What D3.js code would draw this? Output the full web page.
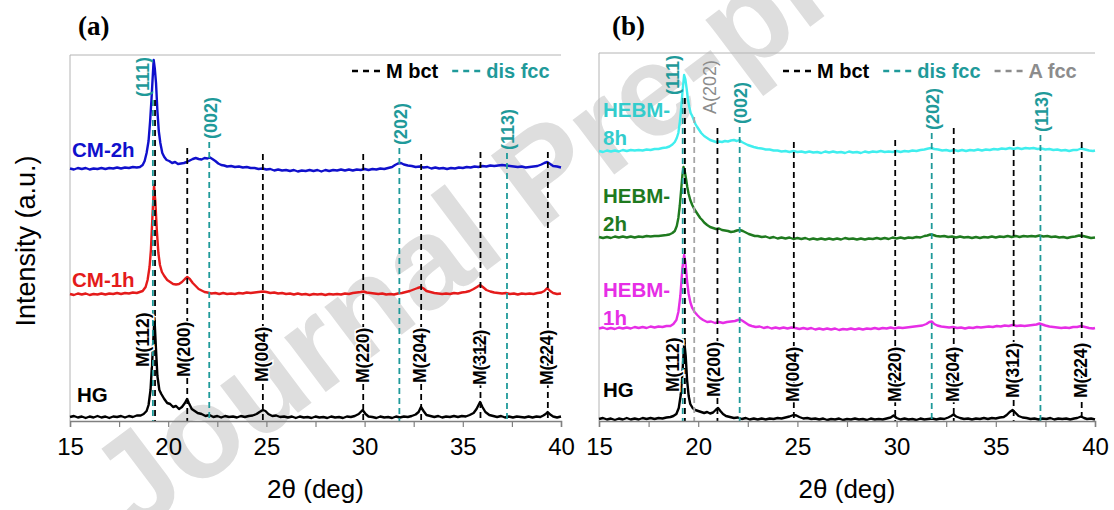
<!DOCTYPE html>
<html>
<head>
<meta charset="utf-8">
<script src="https://cdn.jsdelivr.net/npm/d3@7"></script>
<style>
  body { margin: 0; background: #fff; }
  svg { display: block; font-family: Arial, "Liberation Sans", sans-serif; }
</style>
</head>
<body>
<div id="chart"></div>
<script>
// ---- data: 2theta (deg) vs intensity above each pattern's own baseline (a.u.) ----
const hgA = [[15,1],[15.2,2],[15.4,0.5],[15.6,1.5],[15.8,0],[16,1.5],[16.2,0.5],[16.4,2],[16.6,0.5],[16.8,1.5],[17,0],[17.2,1.5],[17.4,1],[17.6,2],[17.8,0.5],[18,2],[18.2,1],[18.4,2.5],[18.6,2.5],[18.75,4],[18.9,7],[19.0,13],[19.1,28],[19.2,62],[19.3,100],[19.37,72],[19.45,42],[19.55,28],[19.65,24],[19.8,19],[19.95,15],[20.1,14],[20.25,11],[20.4,12],[20.55,9],[20.7,11],[20.85,15],[20.96,19],[21.05,15],[21.2,9],[21.35,7],[21.5,5],[21.7,4],[21.9,2],[22.1,3],[22.3,1],[22.5,2],[22.7,0.5],[22.9,2],[23.1,1],[23.3,1.5],[23.5,0.5],[23.7,2],[23.9,1],[24.1,2],[24.3,2.5],[24.5,4],[24.65,6],[24.82,8],[24.95,7],[25.1,4],[25.3,2],[25.5,2.5],[25.7,1],[25.9,1.5],[26.1,0.5],[26.3,1.5],[26.5,0],[26.7,1.5],[26.9,0.5],[27.1,1],[27.3,0],[27.5,1.5],[27.7,0.5],[27.9,1],[28.1,0],[28.3,1.5],[28.5,0.5],[28.7,1],[28.9,0],[29.1,1.5],[29.3,1],[29.5,2],[29.7,4],[29.9,8],[30.05,4],[30.2,1.5],[30.4,1],[30.6,0],[30.8,1.5],[31,0.5],[31.2,1],[31.4,0],[31.6,1.5],[31.8,0.5],[32,1.5],[32.2,1],[32.4,2],[32.6,3.5],[32.75,6],[32.87,11],[33.0,7],[33.15,3],[33.35,2],[33.55,1],[33.75,2],[33.95,0.5],[34.15,1.5],[34.35,1],[34.55,2],[34.75,1],[34.95,2],[35.15,1.5],[35.35,3],[35.55,5],[35.7,9],[35.88,16],[36.0,11],[36.15,6],[36.35,3],[36.55,2],[36.75,1],[36.95,2],[37.15,0.5],[37.35,1.5],[37.55,0.5],[37.75,1.5],[37.95,1],[38.15,0.5],[38.35,1.5],[38.55,0.5],[38.75,1.5],[38.95,1],[39.1,2.5],[39.22,4],[39.32,6],[39.45,3.5],[39.6,1.5],[39.8,0.5],[40,1.5]];

const cm1h = [[15,1],[15.2,0],[15.4,1.5],[15.6,0.5],[15.8,1.5],[16,0],[16.2,1],[16.4,0.5],[16.6,1.5],[16.8,0.5],[17,1.5],[17.2,1],[17.4,2],[17.6,1],[17.8,2],[18,1.5],[18.2,2.5],[18.4,2],[18.55,3],[18.7,4],[18.85,8],[18.95,15],[19.05,28],[19.12,45],[19.2,80],[19.28,110],[19.35,92],[19.42,65],[19.5,42],[19.58,30],[19.68,23],[19.8,19],[19.95,15],[20.1,13],[20.25,11],[20.4,10.5],[20.55,11],[20.7,13],[20.85,16],[20.97,18],[21.1,16],[21.25,12],[21.4,9],[21.55,6],[21.7,4.5],[21.85,3],[22,2.5],[22.2,1.5],[22.4,2],[22.6,1],[22.8,2],[23,1],[23.2,1.5],[23.4,1],[23.6,2],[23.8,1.5],[24,2.5],[24.2,2],[24.4,2.5],[24.6,3],[24.82,3.5],[25,3],[25.2,2],[25.4,2.5],[25.6,1.5],[25.8,2],[26,1],[26.2,1.5],[26.4,0.5],[26.6,1.5],[26.8,0.5],[27,1],[27.2,0],[27.4,1],[27.6,0.5],[27.8,1],[28,0],[28.2,1],[28.4,0.5],[28.6,1],[28.8,0.5],[29,1.5],[29.2,1],[29.4,2],[29.6,2.5],[29.8,3],[29.95,3.5],[30.1,2.5],[30.3,2],[30.5,1.5],[30.7,1],[30.9,1.5],[31.1,0.5],[31.3,1],[31.5,0.5],[31.7,1.5],[31.9,2],[32.1,3],[32.3,4],[32.5,5.5],[32.7,7],[32.87,8],[33.0,6.5],[33.15,4],[33.35,3],[33.55,2],[33.75,1.5],[33.95,1],[34.15,1.5],[34.35,1],[34.55,2],[34.75,1.5],[34.95,2.5],[35.15,3],[35.35,4],[35.55,6],[35.72,8],[35.88,10],[36.02,8],[36.2,5],[36.4,3.5],[36.6,2.5],[36.8,2],[37,1.5],[37.2,2],[37.4,1],[37.6,1.5],[37.8,0.5],[38,1.5],[38.2,1],[38.4,1.5],[38.6,1],[38.8,2],[39,2.5],[39.15,4],[39.3,7],[39.45,4],[39.6,2],[39.8,1],[40,1.5]];

const cm2h = [[15,0.5],[15.2,-0.5],[15.4,1],[15.6,0],[15.8,1],[16,-0.5],[16.2,0.5],[16.4,0],[16.6,1],[16.8,0],[17,1],[17.2,0.5],[17.4,1.5],[17.6,0.5],[17.8,1.5],[18,1],[18.2,2],[18.4,1.5],[18.56,2],[18.7,4],[18.8,8],[18.9,16],[19.0,28],[19.08,48],[19.15,70],[19.2,88],[19.26,109],[19.32,100],[19.38,86],[19.45,58],[19.52,38],[19.6,26],[19.7,16],[19.8,12],[19.92,9],[20.05,8],[20.2,6],[20.35,7],[20.5,5],[20.65,5.5],[20.8,6],[20.95,7],[21.1,8.5],[21.25,10],[21.4,11],[21.55,10],[21.7,9.5],[21.85,11],[22.0,10.5],[22.13,11.5],[22.25,10],[22.4,8],[22.55,5.5],[22.7,4],[22.85,3.5],[23,2.5],[23.2,3],[23.4,2],[23.6,2.5],[23.8,1.5],[24,2],[24.2,1],[24.4,1],[24.6,0],[24.8,0.5],[25,-0.5],[25.2,0],[25.4,-1.5],[25.6,-0.5],[25.8,-1.5],[26,-1],[26.2,-2],[26.4,-1],[26.6,-2.5],[26.8,-1.5],[27,-2],[27.2,-1],[27.4,-2],[27.6,-1],[27.8,-2.5],[28,-1],[28.2,-2],[28.4,-1],[28.6,-1.5],[28.8,-0.5],[29,-1.5],[29.2,-0.5],[29.4,-1.5],[29.6,-0.5],[29.8,-1],[30,0],[30.2,-1],[30.4,0],[30.6,-0.5],[30.8,0.5],[31,0],[31.2,1],[31.4,2],[31.55,4],[31.7,5.5],[31.85,6],[32,4.5],[32.2,3.5],[32.4,3],[32.6,2],[32.8,2.5],[33,1.5],[33.2,2],[33.4,0.5],[33.6,1.5],[33.8,0.5],[34,1],[34.2,0],[34.4,1],[34.6,0.5],[34.8,1.5],[35,1],[35.2,2],[35.4,1.5],[35.6,2.5],[35.8,2],[36,3],[36.2,2.5],[36.4,3.5],[36.6,3],[36.8,3.5],[37,4],[37.2,3.5],[37.4,3],[37.6,2.5],[37.8,2],[38,2.5],[38.2,1.5],[38.4,2],[38.6,2.5],[38.8,3],[39,4.5],[39.15,6],[39.3,7],[39.45,5],[39.6,3],[39.8,2.5],[40,1.5]];

const hgB = [[15,1],[15.2,2],[15.4,0.5],[15.6,1.5],[15.8,0],[16,1.5],[16.2,0.5],[16.4,2],[16.6,0.5],[16.8,1.5],[17,0.5],[17.2,2],[17.4,1],[17.6,2],[17.8,1],[18,2],[18.2,1.5],[18.4,2.5],[18.6,3],[18.75,4],[18.9,6],[19.02,12],[19.12,25],[19.22,52],[19.3,78],[19.37,64],[19.44,40],[19.52,24],[19.6,16],[19.72,12],[19.85,10],[20,9],[20.15,8],[20.3,7],[20.45,8],[20.6,6.5],[20.75,7.5],[20.88,10],[21,12],[21.12,9],[21.25,6],[21.4,4],[21.6,3],[21.8,2],[22,2.5],[22.2,1],[22.4,2],[22.6,0.5],[22.8,1.5],[23,0.5],[23.2,1.5],[23.4,0.5],[23.6,1.5],[23.8,1],[24,2],[24.2,1.5],[24.4,2.5],[24.6,3.5],[24.8,5],[24.95,4.5],[25.1,3],[25.3,1.5],[25.5,2],[25.7,1],[25.9,1.5],[26.1,0.5],[26.3,1.5],[26.5,0],[26.7,1],[26.9,0.5],[27.1,1.5],[27.3,0],[27.5,1],[27.7,0.5],[27.9,1.5],[28.1,0.5],[28.3,1],[28.5,0],[28.7,1.5],[28.9,0.5],[29.1,1],[29.3,0.5],[29.5,1.5],[29.7,2.5],[29.85,4.5],[30,2],[30.2,0.5],[30.4,1.5],[30.6,0.5],[30.8,1],[31,0],[31.2,1.5],[31.4,0.5],[31.6,1],[31.8,1.5],[32,0.5],[32.2,1.5],[32.4,1],[32.6,2.5],[32.75,4],[32.87,5.5],[33,3.5],[33.2,2],[33.4,1],[33.6,1.5],[33.8,0.5],[34,1.5],[34.2,1],[34.4,2],[34.6,1],[34.8,2],[35,1.5],[35.2,2.5],[35.4,3],[35.55,5],[35.7,8],[35.85,10],[36,7],[36.15,4],[36.35,2.5],[36.55,2],[36.75,1],[36.95,1.5],[37.15,0.5],[37.35,1.5],[37.55,1],[37.75,2],[37.95,0.5],[38.15,1.5],[38.35,1],[38.55,1.5],[38.75,0.5],[38.95,1.5],[39.1,2],[39.3,3.5],[39.45,2],[39.6,1],[39.8,1.5],[40,0.5]];

const hebm1h = [[15,0.5],[15.2,1.5],[15.4,0],[15.6,1],[15.8,0],[16,1.5],[16.2,0.5],[16.4,1.5],[16.6,0.5],[16.8,2],[17,1],[17.2,2],[17.4,1],[17.6,2.5],[17.8,1.5],[18,2.5],[18.2,2],[18.4,3],[18.6,3],[18.75,5],[18.9,9],[19.0,17],[19.1,33],[19.2,60],[19.29,74],[19.36,66],[19.44,48],[19.52,35],[19.6,27],[19.7,21],[19.82,17],[19.95,14],[20.1,11],[20.25,9],[20.45,7],[20.65,7.5],[20.85,6],[21.05,7],[21.25,6],[21.45,7],[21.65,7.5],[21.85,8],[22.0,9],[22.12,9.5],[22.25,8],[22.4,6],[22.55,4],[22.7,3],[22.9,2],[23.1,2.5],[23.3,1],[23.5,2],[23.7,0.5],[23.9,1.5],[24.1,0.5],[24.3,1.5],[24.5,0.5],[24.7,1.5],[24.9,1],[25.1,0],[25.3,1],[25.5,0],[25.7,1],[25.9,-0.5],[26.1,0.5],[26.3,-0.5],[26.5,0.5],[26.7,-0.5],[26.9,0.5],[27.1,-1],[27.3,0],[27.5,-0.5],[27.7,0.5],[27.9,-0.5],[28.1,0.5],[28.3,-0.5],[28.5,0.5],[28.7,0],[28.9,1],[29.1,0],[29.3,1],[29.5,0.5],[29.7,1.5],[29.9,0.5],[30.1,1.5],[30.3,1],[30.5,1.5],[30.7,2],[30.9,2.5],[31.1,3],[31.3,3.5],[31.5,5],[31.65,7],[31.78,7.5],[31.9,5],[32.05,3.5],[32.25,2.5],[32.45,2],[32.65,1.5],[32.85,2],[33.05,1],[33.25,1.5],[33.45,0.5],[33.65,1.5],[33.85,1],[34.05,2],[34.25,1.5],[34.45,2],[34.65,2.5],[34.85,2],[35.05,3],[35.25,2.5],[35.45,3.5],[35.65,3],[35.85,4],[36.05,3],[36.25,3.5],[36.45,3],[36.65,3.5],[36.85,4],[37.05,4.5],[37.2,5.5],[37.35,4.5],[37.5,3.5],[37.7,2.5],[37.9,2],[38.1,1.5],[38.3,1],[38.5,1.5],[38.7,1],[38.9,2],[39.1,2],[39.3,3],[39.5,2],[39.7,1],[39.9,0.5],[40,1]];

const hebm2h = [[15,1],[15.2,0],[15.4,1],[15.6,0],[15.8,1.5],[16,0.5],[16.2,1.5],[16.4,0.5],[16.6,1.5],[16.8,0.5],[17,1.5],[17.2,1],[17.4,2],[17.6,1.5],[17.8,2],[18,2],[18.2,2.5],[18.4,3],[18.55,3.5],[18.7,5],[18.82,7],[18.92,12],[19.0,20],[19.07,32],[19.14,48],[19.2,62],[19.26,71],[19.32,67],[19.38,60],[19.45,51],[19.52,44],[19.6,38],[19.7,33],[19.8,29],[19.9,26],[20.0,23],[20.1,20],[20.2,18],[20.3,15.5],[20.45,13],[20.6,11],[20.75,10],[20.9,9],[21.05,9.5],[21.2,8],[21.35,7.5],[21.5,7],[21.65,6],[21.8,6.5],[21.95,7.5],[22.1,8],[22.25,7],[22.4,5.5],[22.55,4],[22.7,3],[22.85,2],[23,2],[23.2,1],[23.4,1.5],[23.6,0],[23.8,1],[24,-0.5],[24.2,0.5],[24.4,-0.5],[24.6,0.5],[24.8,-1],[25,0],[25.2,-1],[25.4,0],[25.6,-1.5],[25.8,-0.5],[26,-1.5],[26.2,-0.5],[26.4,-1.5],[26.6,-0.5],[26.8,-1.5],[27,-0.5],[27.2,-1.5],[27.4,0],[27.6,-1],[27.8,-0.5],[28,-1.5],[28.2,-0.5],[28.4,-1.5],[28.6,-0.5],[28.8,-1],[29,0],[29.2,-1],[29.4,0],[29.6,-1],[29.8,0.5],[30,-0.5],[30.2,0.5],[30.4,-0.5],[30.6,0.5],[30.8,0],[31,1],[31.2,0.5],[31.4,2],[31.55,2.5],[31.7,3.5],[31.85,3],[32,2],[32.2,1.5],[32.4,2],[32.6,1],[32.8,1.5],[33,0.5],[33.2,1.5],[33.4,0.5],[33.6,1],[33.8,0],[34,1],[34.2,0],[34.4,1],[34.6,0.5],[34.8,1.5],[35,0.5],[35.2,1.5],[35.4,1],[35.6,2],[35.8,1],[36,2],[36.2,1],[36.4,2],[36.6,1.5],[36.8,2],[37,1.5],[37.2,2.5],[37.4,1.5],[37.6,2],[37.8,1],[38,1.5],[38.2,0.5],[38.4,1],[38.6,0],[38.8,1],[39,1.5],[39.2,2.5],[39.4,2],[39.6,1],[39.8,0],[40,0.5]];

const hebm8h = [[15,0],[15.2,-1],[15.4,0.5],[15.6,-0.5],[15.8,0.5],[16,-0.5],[16.2,1],[16.4,0],[16.6,1],[16.8,0.5],[17,1],[17.2,0.5],[17.4,1.5],[17.6,1],[17.8,2],[18,2],[18.2,3],[18.4,3.5],[18.55,4.5],[18.7,6.5],[18.82,9],[18.92,13],[19.0,18],[19.08,30],[19.15,45],[19.22,62],[19.29,76],[19.35,72],[19.42,62],[19.48,52],[19.55,44],[19.62,38],[19.7,35],[19.78,31],[19.86,27],[19.95,24],[20.05,21],[20.15,18],[20.3,15],[20.45,13],[20.6,11],[20.75,10],[20.9,9],[21.05,9.5],[21.2,9],[21.35,10],[21.5,9.5],[21.65,10.5],[21.8,11],[21.95,10],[22.07,11],[22.2,9],[22.35,7.5],[22.5,6],[22.65,5],[22.8,4],[23,3],[23.2,2.5],[23.4,1.5],[23.6,1.5],[23.8,0.5],[24,0.5],[24.2,-0.5],[24.4,0],[24.6,-1],[24.8,0],[25,-1],[25.2,-0.5],[25.4,-1.5],[25.6,-0.5],[25.8,-1.5],[26,-1],[26.2,-2],[26.4,-0.5],[26.6,-1.5],[26.8,-0.5],[27,-1.5],[27.2,-1],[27.4,-2],[27.6,-0.5],[27.8,-1.5],[28,-1],[28.2,-2],[28.4,-0.5],[28.6,-1.5],[28.8,-0.5],[29,-1],[29.2,0],[29.4,-1],[29.6,-0.5],[29.8,-1],[30,0],[30.2,-1],[30.4,0],[30.6,-0.5],[30.8,0.5],[31,0],[31.2,1],[31.4,1.5],[31.6,2.5],[31.75,3],[31.9,2],[32.1,1.5],[32.3,0.5],[32.5,1],[32.7,0],[32.9,1],[33.1,0],[33.3,1],[33.5,0],[33.7,1],[33.9,0.5],[34.1,1.5],[34.3,0.5],[34.5,1.5],[34.7,1],[34.9,2],[35.1,1.5],[35.3,2.5],[35.5,2],[35.7,3],[35.9,2],[36.1,3],[36.3,2],[36.5,3],[36.7,2.5],[36.9,3],[37.1,2],[37.3,2.5],[37.5,1.5],[37.7,2],[37.9,1],[38.1,1.5],[38.3,0.5],[38.5,1],[38.7,0],[38.9,1],[39.1,1],[39.3,2.5],[39.5,1.5],[39.7,0.5],[39.9,0],[40,0.5]];

// stacking offsets (a.u.) of each pattern
const offsetsA = [3, 126, 252];          // HG, CM-1h, CM-2h
const offsetsB = [1, 92, 183, 270];      // HG, HEBM-1h, HEBM-2h, HEBM-8h

// reflection positions (2theta, deg)
const mBctLabels = ["M(112)", "M(200)", "M(004)", "M(220)", "M(204)", "M(312)", "M(224)"];
const mBctPos = [19.33, 20.97, 24.82, 29.93, 32.88, 35.9, 39.33];
const disFccLabels = ["(111)", "(002)", "(202)", "(113)"];
const disFccPos = [19.22, 22.09, 31.77, 37.25];
const aFccLabels = ["A(202)"];
const aFccPos = [19.8];

// height (a.u.) where each dashed marker line starts
const mTopA = [321, 273, 267, 267, 267, 269, 269];
const mTopB = [323, 293, 279, 281, 293, 281, 279];
const fccTopA = [321, 279, 273, 268];
const fccTopB = [323, 294, 288, 286];
const aTopB = [304];
// height (a.u.) of the lower end of the M(hkl) labels
const mLabA = [54, 44, 39, 38, 38, 36, 36];
const mLabB = [29, 24, 19, 19, 19, 23, 23];

const xTicks = [15, 17.5, 20, 22.5, 25, 27.5, 30, 32.5, 35, 37.5, 40];

const TEAL = "#1f9a9a", GREY = "#8c8c8c";

const svg = d3.select("#chart").append("svg")
  .attr("width", 1114)
  .attr("height", 510);

// watermark
svg.append("text")
  .attr("transform", "translate(542,172) rotate(-37)")
  .attr("text-anchor", "middle")
  .attr("dy", "0.35em")
  .attr("font-size", 130)
  .attr("font-weight", "bold")
  .attr("fill", "#dedede")
  .text("Journal Pre-proof");

function drawPanel(p) {
  const x = d3.scaleLinear().domain([15, 40]).range([p.left, p.right]);
  const y = d3.scaleLinear().domain([0, p.ymax]).range([p.bottom, p.top]);
  const g = svg.append("g");

  // frame (top + left)
  g.append("path")
    .attr("d", `M${p.left},${p.bottom}V${p.top}H${p.right}`)
    .attr("fill", "none")
    .attr("stroke", "#b4b4b4")
    .attr("stroke-width", 1);

  const line = d3.line()
    .x(d => x(d[0]))
    .y(d => y(d[1]));

  p.series.forEach(s => {
    g.append("path")
      .datum(s.data.map(d => [d[0], d[1] + s.offset]))
      .attr("fill", "none")
      .attr("stroke", s.color)
      .attr("stroke-width", 2.4)
      .attr("stroke-linejoin", "round")
      .attr("d", line);
  });

  // dashed marker lines
  const marks = [];
  mBctPos.forEach((v, i) => marks.push({ x: v, top: p.mTop[i], color: "#000" }));
  disFccPos.forEach((v, i) => marks.push({ x: v, top: p.fccTop[i], color: TEAL }));
  if (p.aTop) aFccPos.forEach((v, i) => marks.push({ x: v, top: p.aTop[i], color: "#a6a6a6" }));

  g.selectAll(".mark").data(marks).join("line")
    .attr("x1", d => x(d.x)).attr("x2", d => x(d.x))
    .attr("y1", d => y(d.top)).attr("y2", p.bottom)
    .attr("stroke", d => d.color)
    .attr("stroke-width", 1.8)
    .attr("stroke-dasharray", "6,4");

  // top labels (fcc)
  const fccLab = disFccLabels.map((t, i) => ({ t, x: disFccPos[i], y: p.fccTop[i] + 3, dx: i === 0 ? -10 : 1, color: TEAL, bold: true }));
  if (p.aTop) aFccLabels.forEach((t, i) => fccLab.push({ t, x: aFccPos[i], y: p.aTop[i] + 3, dx: 15, color: GREY, bold: false }));
  g.selectAll(".flab").data(fccLab).join("text")
    .attr("transform", d => `translate(${x(d.x) + d.dx},${y(d.y)}) rotate(-90)`)
    .attr("dy", "0.36em")
    .attr("font-size", 18)
    .attr("font-weight", d => d.bold ? "bold" : "normal")
    .attr("fill", d => d.color)
    .text(d => d.t);

  // bottom labels (M bct)
  g.selectAll(".mlab").data(mBctLabels.map((t, i) => ({ t, x: mBctPos[i], y: p.mLab[i], dx: i === 0 ? -12 : (i === 1 ? -4 : -1) })))
    .join("text")
    .attr("transform", d => `translate(${x(d.x) + d.dx},${y(d.y)}) rotate(-90)`)
    .attr("dy", "0.36em")
    .attr("font-size", 17.5)
    .attr("font-weight", "bold")
    .attr("fill", "#000")
    .attr("stroke", "#fff")
    .attr("stroke-width", 3)
    .attr("paint-order", "stroke")
    .text(d => d.t);

  // series names
  p.names.forEach(n => {
    const t = g.append("text")
      .attr("x", n.x).attr("y", n.y)
      .attr("font-size", 20.5)
      .attr("font-weight", "bold")
      .attr("fill", n.color);
    n.lines.forEach((l, k) => t.append("tspan").attr("x", n.x).attr("dy", k ? 28 : 0).text(l));
  });

  // x axis
  const ax = g.append("g")
    .attr("transform", `translate(0,${p.bottom})`)
    .call(d3.axisBottom(x).tickValues(xTicks).tickSize(6).tickPadding(11)
      .tickFormat(d => d % 5 === 0 ? d : ""));
  ax.select(".domain").attr("stroke", "#808080").attr("stroke-width", 1.5);
  ax.selectAll(".tick line").attr("stroke", "#808080").attr("stroke-width", 1.2);
  ax.selectAll(".tick text").attr("font-size", 24).attr("font-family", "Arial, 'Liberation Sans', sans-serif").attr("fill", "#000");

  g.append("text")
    .attr("x", (p.left + p.right) / 2).attr("y", 498)
    .attr("text-anchor", "middle")
    .attr("font-size", 26)
    .text("2θ (deg)");

  // legend
  let lx = p.legendX;
  p.legend.forEach(l => {
    g.append("line")
      .attr("x1", lx).attr("x2", lx + 28)
      .attr("y1", 71).attr("y2", 71)
      .attr("stroke", l.color)
      .attr("stroke-width", 2.5)
      .attr("stroke-dasharray", "6,5");
    const t = g.append("text")
      .attr("x", lx + 34).attr("y", 78)
      .attr("font-size", 20)
      .attr("font-weight", "bold")
      .attr("fill", l.color)
      .text(l.text);
    lx += 34 + t.node().getComputedTextLength() + 14;
  });

  // panel tag
  g.append("text")
    .attr("x", p.tagX).attr("y", 35)
    .attr("font-family", "'Liberation Serif', 'Times New Roman', serif")
    .attr("font-size", 27)
    .attr("font-weight", "bold")
    .text(p.tag);
}

drawPanel({
  tag: "(a)", tagX: 78,
  left: 70, right: 561, top: 55, bottom: 421, ymax: 366,
  series: [
    { data: hgA, offset: offsetsA[0], color: "#000000" },
    { data: cm1h, offset: offsetsA[1], color: "#e41b1b" },
    { data: cm2h, offset: offsetsA[2], color: "#1010cc" }
  ],
  names: [
    { lines: ["CM-2h"], x: 72, y: 157, color: "#1010cc" },
    { lines: ["CM-1h"], x: 72, y: 287, color: "#e41b1b" },
    { lines: ["HG"], x: 77, y: 402, color: "#000" }
  ],
  mTop: mTopA, fccTop: fccTopA, mLab: mLabA,
  legendX: 352,
  legend: [{ text: "M bct", color: "#000" }, { text: "dis fcc", color: TEAL }]
});

drawPanel({
  tag: "(b)", tagX: 612,
  left: 599, right: 1095, top: 53, bottom: 421, ymax: 368,
  series: [
    { data: hgB, offset: offsetsB[0], color: "#000000" },
    { data: hebm1h, offset: offsetsB[1], color: "#e62ee6" },
    { data: hebm2h, offset: offsetsB[2], color: "#1f7a1f" },
    { data: hebm8h, offset: offsetsB[3], color: "#40eeee" }
  ],
  names: [
    { lines: ["HEBM-", "8h"], x: 603, y: 117, color: "#33cccc" },
    { lines: ["HEBM-", "2h"], x: 603, y: 203, color: "#1f7a1f" },
    { lines: ["HEBM-", "1h"], x: 603, y: 297, color: "#e62ee6" },
    { lines: ["HG"], x: 603, y: 397, color: "#000" }
  ],
  mTop: mTopB, fccTop: fccTopB, aTop: aTopB, mLab: mLabB,
  legendX: 783,
  legend: [{ text: "M bct", color: "#000" }, { text: "dis fcc", color: TEAL }, { text: "A fcc", color: GREY }]
});

// y axis title
svg.append("text")
  .attr("transform", "translate(35,241) rotate(-90)")
  .attr("text-anchor", "middle")
  .attr("font-size", 27)
  .text("Intensity (a.u.)");
</script>
</body>
</html>
